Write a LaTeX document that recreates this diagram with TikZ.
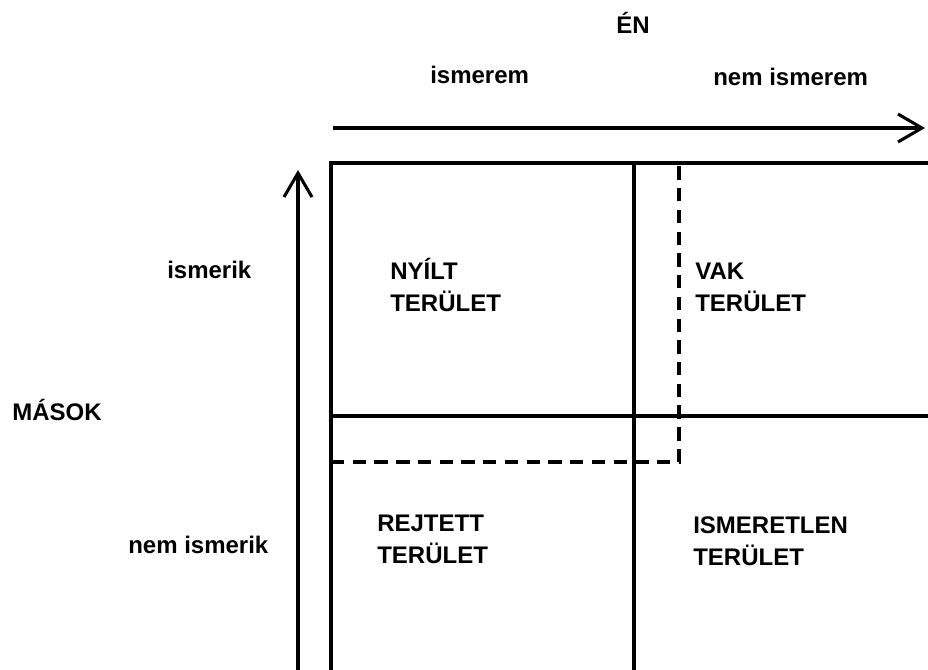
\documentclass[tikz,border=0pt]{standalone}
\usepackage{fontspec}
\setmainfont{Liberation Sans}
\usetikzlibrary{arrows.meta}

\tikzset{
	grid line/.style = {line width = 2.3pt},
	sep line/.style = {line width = 2.3pt, dash pattern = on 10pt off 6.3pt},
	axis/.style = {line width = 2.3pt, -{Straight Barb[length = 18pt, width = 21pt]}},
	lbl/.style = {inner sep = 0pt, font = \bfseries\fontsize{18}{24}\selectfont, align = left, anchor = base west}
}

\begin{document}
\begin{tikzpicture}[x = .75pt, y = -.75pt]
	\useasboundingbox (0,0) rectangle (928,669);
	% quadrants
	\draw [grid line] (331,672) -- (331,163) -- (932,163);
	\draw [grid line] (634,163) -- (634,672);
	\draw [grid line] (331,416) -- (932,416);
	\draw [sep line] (331,462) -- (679,462) -- (679,163);
	% axes
	\draw [axis] (333,128) -- (925,128);
	\draw [axis] (298,672) -- (298,170);
	% labels
	\node [lbl, anchor = base] (en) at (633,33) {ÉN};
	\node [lbl] (ismerem) at (430,83) {ismerem};
	\node [lbl] (nemismerem) at (713,85) {nem ismerem};
	\node [lbl] (ismerik) at (167,278) {ismerik};
	\node [lbl] (masok) at (12,420) {MÁSOK};
	\node [lbl] (nemismerik) at (128,553) {nem ismerik};
	\node [lbl] (nyilt) at (390,311) {NYÍLT\\TERÜLET};
	\node [lbl] (vak) at (695,311) {VAK\\TERÜLET};
	\node [lbl] (rejtett) at (377,563) {REJTETT\\TERÜLET};
	\node [lbl] (ismeretlen) at (693,565) {ISMERETLEN\\TERÜLET};
\end{tikzpicture}
\end{document}
